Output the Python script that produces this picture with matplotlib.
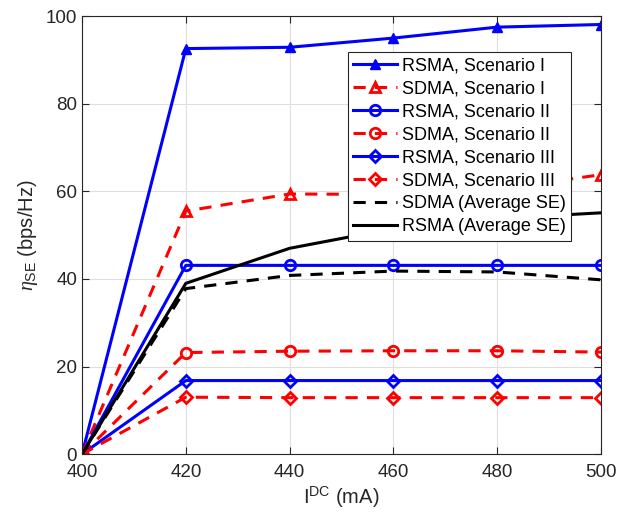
import matplotlib
matplotlib.use('Agg')
import matplotlib.pyplot as plt

plt.rcParams['font.family'] = ['Liberation Sans', 'DejaVu Sans']
plt.rcParams['mathtext.fontset'] = 'custom'
plt.rcParams['mathtext.rm'] = 'Liberation Sans'
plt.rcParams['mathtext.it'] = 'Liberation Serif:italic'

# data
i_dc = [400, 420, 440, 460, 480, 500]

rsma_s1 = [0, 92.6, 92.9, 95.0, 97.5, 98.1]
sdma_s1 = [0, 55.5, 59.4, 59.3, 60.5, 63.8]
rsma_s2 = [0, 43.1, 43.1, 43.1, 43.1, 43.1]
sdma_s2 = [0, 23.2, 23.5, 23.6, 23.6, 23.3]
rsma_s3 = [0, 16.8, 16.8, 16.8, 16.8, 16.8]
sdma_s3 = [0, 13.0, 12.9, 12.9, 12.9, 12.9]
sdma_avg = [0, 37.8, 40.8, 41.8, 41.6, 39.8]
rsma_avg = [0, 39.0, 47.0, 51.5, 53.8, 55.1]

fig, ax = plt.subplots(figsize=(6.17, 5.22), dpi=100)
fig.subplots_adjust(left=0.133, right=0.974, top=0.969, bottom=0.13)

lw = 2.2
ms = 7.5
ax.plot(i_dc, rsma_s1, 'b-', marker='^', lw=lw, ms=ms, mfc='b', label='RSMA, Scenario I')
ax.plot(i_dc, sdma_s1, 'r--', marker='^', lw=lw, ms=ms, mfc='none', mew=2, dashes=(4, 3), label='SDMA, Scenario I')
ax.plot(i_dc, rsma_s2, 'b-', marker='o', lw=lw, ms=ms, mfc='none', mew=2, label='RSMA, Scenario II')
ax.plot(i_dc, sdma_s2, 'r--', marker='o', lw=lw, ms=ms, mfc='none', mew=2, dashes=(4, 3), label='SDMA, Scenario II')
ax.plot(i_dc, rsma_s3, 'b-', marker='D', lw=lw, ms=6, mfc='none', mew=2, label='RSMA, Scenario III')
ax.plot(i_dc, sdma_s3, 'r--', marker='D', lw=lw, ms=6, mfc='none', mew=2, dashes=(4, 3), label='SDMA, Scenario III')
ax.plot(i_dc, sdma_avg, 'k--', lw=lw, dashes=(4, 3), label='SDMA (Average SE)')
ax.plot(i_dc, rsma_avg, 'k-', lw=lw, label='RSMA (Average SE)')

ax.set_xlim(400, 500)
ax.set_ylim(0, 100)
ax.set_xticks([400, 420, 440, 460, 480, 500])
ax.set_yticks([0, 20, 40, 60, 80, 100])
ax.grid(True, color='#dedede', lw=0.8)
ax.set_axisbelow(True)
ax.tick_params(direction='in', top=True, right=True, labelsize=13.5, colors='#262626', length=5)
ax.tick_params(axis='x', pad=7)
for s in ax.spines.values():
    s.set_color('#262626')
    s.set_linewidth(0.8)

ax.set_xlabel('I$^{\\rm DC}$ (mA)', fontsize=14.5, color='#262626', labelpad=3)
ax.set_ylabel('$\\eta_{\\rm SE}$ (bps/Hz)', fontsize=14.5, color='#262626')

leg = ax.legend(loc='upper right', bbox_to_anchor=(0.943, 0.918), fontsize=13,
                fancybox=False, framealpha=1, edgecolor='#262626',
                handlelength=2.4, handletextpad=0.3, borderpad=0.3,
                labelspacing=0.33, borderaxespad=0)
leg.get_frame().set_linewidth(0.8)

fig.savefig('out.png', dpi=100)
